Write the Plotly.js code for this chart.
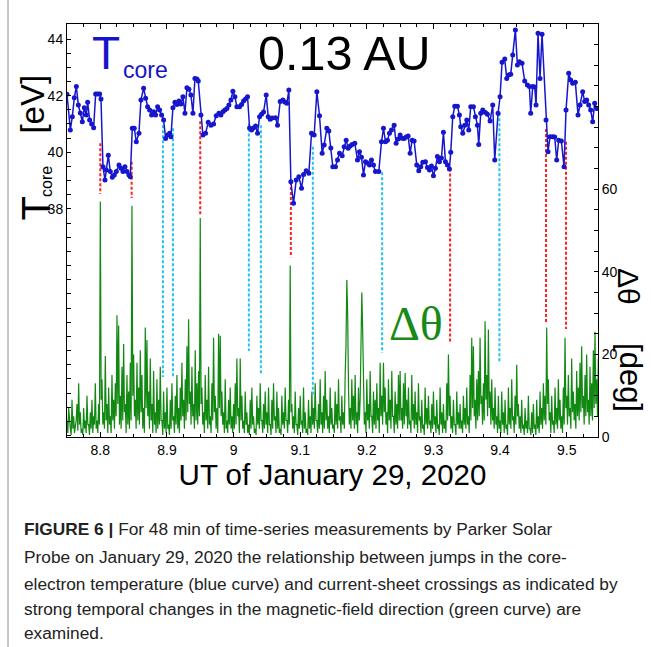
<!DOCTYPE html>
<html><head><meta charset="utf-8">
<script src="https://cdn.plot.ly/plotly-3.0.1.min.js"></script>
<style>body{margin:0;background:#fff}#chart{width:651px;height:647px}</style>
</head><body><div id="chart"></div>
<script>
// ---- Core-electron temperature (blue), UT hours / eV ----
const tcoreTime = [8.750,8.755,8.758,8.761,8.764,8.767,8.770,8.773,8.776,8.779,8.781,8.784,8.787,8.790,8.793,8.796,8.799,8.801,8.804,8.807,
8.809,8.812,8.815,8.818,8.821,8.824,8.828,8.831,8.834,8.837,8.840,8.843,8.845,8.848,8.851,8.854,8.858,8.861,8.865,8.868,
8.871,8.874,8.877,8.880,8.883,8.886,8.889,8.892,8.895,8.898,8.901,8.904,8.906,8.909,8.912,8.915,8.918,8.921,8.924,8.927,
8.930,8.933,8.936,8.939,8.942,8.945,8.947,8.951,8.954,8.958,8.962,8.966,8.970,8.974,8.978,8.981,8.984,8.987,8.990,8.993,
8.996,8.999,9.002,9.005,9.009,9.012,9.015,9.018,9.021,9.024,9.027,9.030,9.033,9.036,9.039,9.042,9.045,9.049,9.052,9.055,
9.058,9.063,9.066,9.070,9.074,9.077,9.080,9.083,9.086,9.090,9.094,9.098,9.102,9.105,9.109,9.113,9.117,9.121,9.125,9.129,
9.133,9.136,9.140,9.143,9.146,9.149,9.153,9.156,9.159,9.163,9.166,9.169,9.172,9.175,9.178,9.182,9.186,9.189,9.192,9.195,
9.198,9.201,9.204,9.207,9.210,9.213,9.218,9.222,9.225,9.228,9.231,9.234,9.237,9.241,9.244,9.247,9.250,9.253,9.256,9.259,
9.262,9.265,9.268,9.271,9.275,9.278,9.281,9.284,9.288,9.291,9.294,9.297,9.300,9.303,9.306,9.309,9.312,9.315,9.318,9.321,
9.324,9.326,9.329,9.332,9.336,9.339,9.341,9.344,9.347,9.350,9.353,9.356,9.360,9.363,9.366,9.368,9.371,9.374,9.378,9.381,
9.385,9.389,9.392,9.397,9.400,9.403,9.407,9.410,9.413,9.416,9.419,9.423,9.426,9.429,9.433,9.437,9.441,9.444,9.446,9.449,
9.452,9.454,9.457,9.460,9.463,9.469,9.472,9.475,9.479,9.482,9.485,9.488,9.492,9.496,9.499,9.503,9.506,9.509,9.513,9.517,
9.520,9.524,9.527,9.530,9.533,9.536,9.539,9.542,9.545];
const tcoreValue = [42.05,40.79,41.26,41.93,42.32,41.67,41.39,41.08,41.57,41.32,41.77,41.14,41.00,40.87,42.06,42.06,42.06,41.88,39.49,39.02,
39.38,39.90,39.32,39.12,39.20,39.32,39.55,39.44,39.32,39.49,39.32,39.20,39.14,40.85,40.85,40.37,40.67,41.85,42.26,41.91,
41.61,41.49,41.32,41.43,41.32,41.61,41.49,41.32,41.14,40.49,40.61,40.67,40.55,41.57,41.77,41.69,41.81,41.71,41.96,41.38,
42.28,42.23,42.02,41.38,42.61,42.59,42.52,41.32,40.61,40.67,41.06,40.96,41.00,41.29,41.38,41.32,41.43,41.49,41.55,41.67,
41.85,42.16,41.96,41.61,41.61,41.69,41.81,41.88,41.96,40.86,40.79,40.86,40.93,40.67,41.26,41.34,41.42,42.02,41.26,41.17,
41.21,41.22,40.96,41.79,41.85,41.78,41.73,42.20,38.96,38.20,39.02,39.14,38.73,39.22,39.35,39.26,40.67,40.61,42.14,41.29,
39.97,40.26,40.85,40.75,40.15,39.49,39.49,39.73,39.97,39.88,40.20,40.43,40.14,40.22,40.28,40.32,39.73,40.02,39.83,39.20,
39.67,39.62,39.55,39.73,39.55,39.32,39.32,40.37,40.85,40.37,40.43,40.67,40.79,40.96,40.32,40.47,40.61,40.50,40.49,40.54,
40.58,39.97,40.43,40.40,39.55,39.35,39.49,39.65,39.67,39.46,39.38,39.52,39.17,39.44,39.85,39.67,39.80,40.71,39.67,39.55,
39.41,40.00,41.26,41.63,41.63,41.32,40.90,40.67,40.96,41.14,40.79,41.61,41.61,41.26,40.96,40.28,41.38,41.49,41.41,41.34,
41.11,41.67,39.73,41.38,41.96,43.18,43.29,42.61,42.73,42.76,43.44,44.32,43.08,43.20,43.14,42.52,42.38,42.32,41.38,42.32,
42.31,41.67,44.20,42.61,44.17,41.14,40.02,40.55,40.55,40.54,39.73,40.43,40.40,39.49,41.49,42.79,42.55,42.44,42.47,41.32,
41.67,42.14,41.79,41.85,41.67,41.49,41.08,41.73,41.55];

// ---- Magnetic-field direction change (green), degrees, 4.5 s cadence from 8.75 UT ----
const dthetaStart = 8.75;
const dthetaStepHours = 0.00125;
const dthetaValue = [
4,1,7,3,2,0.5,9,2,5,1,3,4,8,1.5,13,3,6,1,2,0.5,7,2,4,1,10,3,3,0.5,6,2,9,1,5,3,13,2,4,1,8,3,
57,9,14,3,6,2,19.6,4,8,1,12,3,5,1,15,4,9,2,13,5,29.5,8,27,3,10,2,17,4,22.5,6,8,1,15,3,11,2,18,4,56,10,
20,5,9,2,18,4,12,3,21,6,15,2,7,1,26.5,7,23.5,5,11,2,19,4,8,1,16,3,6,1,14,2,9,3,17,4,4,0.5,11,2,6,1,
12,2,3,0.5,9,2,13,4,5,1,10,3,15,2,7,1,12,4,18,5,9,2,14,4,22,6,28.5,8,11,3,17,5,8,2,21,4,13,3,16,5,
53,8,12,3,6,1,15,4,9,2,17,3,5,1,13,4,24,6,10,2,7,1,25,7,24.5,5,11,3,6,1,14,2,4,1,9,3,12,2,5,1,
8,2,13,3,19,5,7,1,19,4,10,2,4,1,11,3,6,1,3,0.5,9,2,12,3,5,1,2,0.5,10,3,7,2,13,4,4,1,8,2,11,3,
6,1,12,3,3,0.5,9,2,13,4,5,1,11,2,7,1,2,0.5,10,3,6,2,12,4,4,1,9,3,41.5,6,8,2,5,1,11,3,3,0.5,7,2,
10,3,4,1,12,2,6,1,2,0.5,9,2,5,1,11,3,7,2,13,4,4,1,8,2,14,3,6,1,10,2,16,4,9,2,5,1,12,3,7,2,
3,1,11,3,8,2,14,4,5,1,10,3,6,2,15,22,38,30,12,3,7,2,14,4,10,2,15,3,6,1,12,4,9,18,35,26,11,3,6,1,
14,4,8,2,16,5,5,1,11,3,9,2,13,4,7,1,18,5,10,3,18,6,12,3,6,1,14,4,9,2,16,5,5,1,11,3,8,2,15,4,
16,4,7,2,13,3,15.5,5,9,2,12,3,4,1,15,4,8,2,11,3,6,1,13,4,5,1,9,2,3,0.5,12,3,7,2,10,3,4,1,8,2,
11,3,5,1,9,2,3,0.5,12,3,6,1,8,2,4,1,13,4,20,5,10,2,5,1,9,3,3,0.5,11,3,6,2,8,2,4,1,10,3,7,2,
12,3,5,1,15,4,24,7,22,5,9,2,14,4,16,5,24,8,10,3,13,4,28,9,15,5,26,7,11,3,14,4,7,2,12,3,5,1,10,2,
4,1,11,3,6,1,9,2,3,0.5,12,3,7,2,14,4,5,1,10,3,17.5,5,8,2,5,1,9,2,3,0.5,7,2,4,1,10,2,2,0.5,6,1,
8,2,3,0.5,9,2,5,1,11,3,7,2,13,4,10,3,26.5,8,14,4,6,1,10,3,4,1,12,3,7,2,14,4,9,2,5,1,12,3,24,7,
10,3,15,5,7,2,19,6,11,4,8,2,16,5,12,4,18,6,22,7,10,3,15,5,20,6,9,3,17,5,13,4,21,7,25.5,8,14,5,19,6];

// ---- Dashed markers of jumps (top/bottom given in eV on the Tcore axis) ----
const redTime   = [8.800, 8.847, 8.950, 9.086, 9.325, 9.469, 9.499];
const redTop    = [40.32, 39.67, 41.10, 38.95, 39.43, 40.82, 40.37];
const redBottom = [38.53, 38.39, 37.79, 36.30, 33.30, 33.98, 33.76];
const cyanTime   = [8.894, 8.909, 9.023, 9.041, 9.119, 9.223, 9.399];
const cyanTop    = [40.96, 40.85, 41.02, 40.96, 40.20, 39.30, 41.38];
const cyanBottom = [32.07, 32.03, 32.99, 32.14, 31.43, 32.92, 32.60];

// ---- Axis tick labels ----
const xTickVals = [8.8, 8.9, 9.0, 9.1, 9.2, 9.3, 9.4, 9.5];
const xTickText = ['8.8','8.9','9','9.1','9.2','9.3','9.4','9.5'];
const tLabelled = [38, 40, 42, 44];
const dLabelled = [0, 20, 40, 60];

function steps(a, b, s){ const out=[]; for(let v=a; v<=b+1e-9; v+=s) out.push(+v.toFixed(3)); return out; }
const tTickVals = steps(30, 44.5, 0.5);
const tTickText = tTickVals.map(v => tLabelled.includes(v) ? String(v) : '');
const dTickVals = steps(0, 100, 5);
const dTickText = dTickVals.map(v => dLabelled.includes(v) ? String(v) : '');

function segs(xs, y0, y1){ const X=[],Y=[]; xs.forEach((x,i)=>{X.push(x,x,null);Y.push(y0[i],y1[i],null);}); return {X,Y}; }
const red = segs(redTime, redTop, redBottom);
const cyan = segs(cyanTime, cyanTop, cyanBottom);
const dthetaTime = dthetaValue.map((_, i) => dthetaStart + i*dthetaStepHours);

const traces = [
  {x: dthetaTime, y: dthetaValue, yaxis: 'y', mode: 'lines', line: {color: '#118811', width: 1.2}, hoverinfo: 'skip'},
  {x: red.X, y: red.Y, yaxis: 'y2', mode: 'lines', line: {color: '#ff2020', width: 2, dash: '3px,2px'}, connectgaps: false},
  {x: cyan.X, y: cyan.Y, yaxis: 'y2', mode: 'lines', line: {color: '#22c4f2', width: 2, dash: '3px,2px'}, connectgaps: false},
  {x: tcoreTime, y: tcoreValue, yaxis: 'y2', mode: 'lines+markers', line: {color: '#1616cc', width: 1.5}, marker: {color: '#1616cc', size: 5}}
];

const BLUE = '#1414c8', GREEN = '#178a17';
const F = 'Liberation Sans, Arial, Helvetica, sans-serif';
const CAP = {size: 17.3, color: '#222', family: F};
const ann = (o) => Object.assign({xref:'paper', yref:'paper', showarrow:false}, o);
const layout = {
  width: 651, height: 647,
  margin: {l: 67, r: 53, t: 24, b: 210, pad: 0},
  paper_bgcolor: '#fff', plot_bgcolor: '#fff',
  showlegend: false,
  font: {family: F, color: '#000'},
  xaxis: {range: [8.75, 9.547], tickmode: 'array', tickvals: xTickVals, ticktext: xTickText,
    title: {text: 'UT of January 29, 2020', font: {size: 29.5, family: F, color: '#000'}, standoff: 0},
    ticks: 'inside', ticklen: 5, tickwidth: 1, tickcolor: '#000', showline: true, linecolor: '#000', linewidth: 1,
    mirror: 'ticks', showgrid: false, zeroline: false, tickfont: {size: 14, family: F},
    minor: {dtick: 0.025, tick0: 8.75, ticks: 'inside', ticklen: 3, tickcolor: '#000', showgrid: false}},
  yaxis: {range: [0, 100], side: 'right', tickmode: 'array', tickvals: dTickVals, ticktext: dTickText,
    ticks: 'inside', ticklen: 4, tickcolor: '#000', showline: true, linecolor: '#000', linewidth: 1,
    showgrid: false, zeroline: false, tickfont: {size: 14, family: F}},
  yaxis2: {range: [29.95, 44.53], overlaying: 'y', side: 'left', tickmode: 'array', tickvals: tTickVals, ticktext: tTickText,
    ticks: 'inside', ticklen: 4, tickcolor: '#000', showline: true, linecolor: '#000', linewidth: 1,
    showgrid: false, zeroline: false, tickfont: {size: 14, family: F}},
  shapes: [{type: 'line', xref: 'paper', yref: 'paper', x0: -0.1111, x1: -0.1111, y0: -0.5085, y1: 1.06, line: {color: '#8c8c8c', width: 1}}],
  annotations: [
    ann({x: 0.0433, y: 0.9286, xanchor: 'left', yanchor: 'middle', text: 'T', font: {size: 46, color: BLUE, family: F}}),
    ann({x: 0.1018, y: 0.8886, xanchor: 'left', yanchor: 'middle', text: 'core', font: {size: 23, color: BLUE, family: F}}),
    ann({x: 0.5235, y: 0.9286, xanchor: 'center', yanchor: 'middle', text: '0.13 AU', font: {size: 48.5, color: '#000', family: F}}),
    ann({x: 0.658, y: 0.276, xanchor: 'center', yanchor: 'middle', text: 'Δθ', font: {size: 48, color: GREEN, family: 'Liberation Serif, Times New Roman, serif'}}),
    ann({x: -0.0584, y: 0.5533, xanchor: 'center', yanchor: 'middle', textangle: -90, text: 'T', font: {size: 40, family: F}}),
    ann({x: -0.0388, y: 0.6186, xanchor: 'center', yanchor: 'middle', textangle: -90, text: 'core', font: {size: 16, family: F}}),
    ann({x: -0.064, y: 0.805, xanchor: 'center', yanchor: 'middle', textangle: -90, text: '[eV]', font: {size: 33, family: F}}),
    ann({x: 1.0574, y: 0.3644, xanchor: 'center', yanchor: 'middle', textangle: 90, text: 'Δθ', font: {size: 30, family: F}}),
    ann({x: 1.0612, y: 0.144, xanchor: 'center', yanchor: 'middle', textangle: 90, text: '[deg]', font: {size: 31, family: F}}),
    ann({x: -0.0847, y: -0.2228, xanchor: 'left', yanchor: 'middle', align: 'left', text: '<b>FIGURE 6 |</b> For 48 min of time-series measurements by Parker Solar', font: CAP}),
    ann({x: -0.0847, y: -0.2906, xanchor: 'left', yanchor: 'middle', align: 'left', text: 'Probe on January 29, 2020 the relationship between jumps in the core-', font: CAP}),
    ann({x: -0.0847, y: -0.3559, xanchor: 'left', yanchor: 'middle', align: 'left', text: 'electron temperature (blue curve) and current-sheet crossings as indicated by', font: CAP}),
    ann({x: -0.0847, y: -0.4165, xanchor: 'left', yanchor: 'middle', align: 'left', text: 'strong temporal changes in the magnetic-field direction (green curve) are', font: CAP}),
    ann({x: -0.0847, y: -0.4746, xanchor: 'left', yanchor: 'middle', align: 'left', text: 'examined.', font: CAP})
  ]
};
Plotly.newPlot('chart', traces, layout, {staticPlot: true, displayModeBar: false});
</script></body></html>
